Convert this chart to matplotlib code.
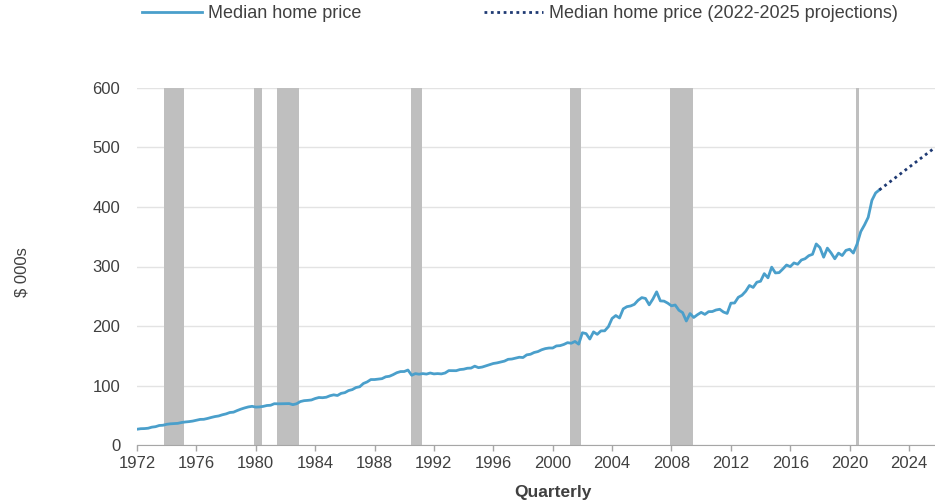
import numpy as np
import matplotlib
matplotlib.use("Agg")
import matplotlib.pyplot as plt

plt.rcParams['font.family'] = ['Liberation Sans', 'DejaVu Sans']

# quarterly median home price, $000s, 1972Q1 .. 2022Q1
price = [
    26.5, 27.4, 27.6, 28.2,      # 1972
    30.0, 30.8, 32.8, 33.2,      # 1973
    34.8, 35.6, 36.0, 36.4,      # 1974
    37.8, 38.7, 39.3, 40.2,      # 1975
    41.6, 43.0, 43.2, 44.6,      # 1976
    46.3, 47.8, 48.8, 50.8,      # 1977
    52.3, 54.6, 55.2, 57.9,      # 1978
    60.3, 62.3, 64.0, 65.0,      # 1979
    63.7, 64.0, 64.9, 66.4,      # 1980
    66.8, 69.4, 69.2, 69.3,      # 1981
    69.3, 69.6, 67.8, 69.3,      # 1982
    73.0, 74.5, 75.0, 75.7,      # 1983
    78.1, 79.8, 79.5, 80.3,      # 1984
    82.8, 84.3, 83.2, 86.8,      # 1985
    88.0, 91.5, 93.1, 96.6,      # 1986
    97.9, 103.4, 106.0, 110.0,   # 1987
    110.0, 110.8, 111.5, 114.6,  # 1988
    115.5, 118.2, 121.5, 123.4,  # 1989
    123.5, 126.0, 117.2, 120.0,  # 1990
    119.0, 120.0, 119.2, 121.0,  # 1991
    119.5, 120.0, 119.5, 121.0,  # 1992
    125.0, 125.0, 124.9, 126.8,  # 1993
    127.4, 129.0, 129.3, 132.5,  # 1994
    130.0, 131.0, 133.0, 135.0,  # 1995
    137.0, 138.0, 139.5, 141.0,  # 1996
    144.0, 144.5, 146.0, 147.5,  # 1997
    147.0, 151.5, 152.5, 155.5,  # 1998
    157.0, 160.0, 162.0, 163.0,  # 1999
    163.0, 166.5, 167.0, 169.0,  # 2000
    172.0, 171.0, 174.0, 169.5,  # 2001
    188.7, 187.2, 178.1, 190.1,  # 2002
    186.0, 191.8, 191.9, 198.8,  # 2003
    212.7, 217.6, 213.5, 228.8,  # 2004
    232.5, 233.7, 236.4, 243.2,  # 2005
    247.7, 246.3, 235.6, 245.4,  # 2006
    257.4, 242.2, 241.8, 238.4,  # 2007
    233.9, 235.3, 226.5, 222.5,  # 2008
    208.4, 220.9, 214.3, 219.0,  # 2009
    222.9, 219.5, 224.1, 224.3,  # 2010
    226.9, 228.1, 223.5, 221.1,  # 2011
    238.4, 238.7, 248.2, 251.7,  # 2012
    258.4, 268.1, 264.8, 273.6,  # 2013
    275.2, 288.0, 281.0, 298.9,  # 2014
    289.2, 289.7, 295.8, 302.5,  # 2015
    299.8, 306.0, 303.8, 310.9,  # 2016
    313.1, 318.2, 320.5, 337.9,  # 2017
    331.8, 315.6, 330.9, 322.8,  # 2018
    313.0, 322.5, 318.4, 327.1,  # 2019
    329.0, 322.6, 337.5, 358.7,  # 2020
    369.8, 382.6, 411.2, 423.6,  # 2021
    428.7,                       # 2022
]

# projections 2022Q1 .. 2025Q4
proj = [428.7, 433.5, 438.2, 443.0, 447.7, 452.5, 457.2, 462.0,
        466.7, 471.5, 476.2, 481.0, 485.7, 490.5, 495.2, 500.0]

# recession periods (year fractions)
rec_start = [1973.85, 1979.9, 1981.4, 1990.45, 2001.15, 2007.9, 2020.4]
rec_end = [1975.15, 1980.4, 1982.9, 1991.2, 2001.9, 2009.45, 2020.65]

tick_years = list(range(1972, 2025, 4))

x_hist = 1972 + np.arange(len(price)) / 4.0
x_proj = 2022 + np.arange(len(proj)) / 4.0

txt = '#404040'

fig = plt.figure(figsize=(9.35, 5.04), dpi=100)
ax = fig.add_axes([137 / 935, 59 / 504, 798 / 935, 357 / 504])

for s, e in zip(rec_start, rec_end):
    ax.axvspan(s, e, color='#BFBFBF', lw=0, zorder=1)

ln1, = ax.plot(x_hist, price, color='#4A9FCB', lw=2.0, zorder=3,
               label='Median home price')
ln2, = ax.plot(x_proj, proj, color='#1F3A73', lw=2.0, ls=(0, (1, 1.3)),
               zorder=3, label='Median home price (2022-2025 projections)')

ax.set_xlim(1972, 2025.75)
ax.set_ylim(0, 600)
ax.set_yticks(range(0, 601, 100))
ax.set_xticks(tick_years)
ax.set_xticklabels([str(y) for y in tick_years])
ax.yaxis.grid(True, color='#E3E3E3', lw=1.0, zorder=0)
ax.set_axisbelow(True)

for side in ['top', 'right', 'left']:
    ax.spines[side].set_visible(False)
ax.spines['bottom'].set_color('#A6A6A6')
ax.spines['bottom'].set_zorder(4)

ax.tick_params(axis='y', length=0, pad=12, labelsize=12, labelcolor=txt)
ax.tick_params(axis='x', length=4, width=1, color='#A6A6A6', pad=4,
               labelsize=12, labelcolor=txt)

fig.text(22 / 935, 1 - 272 / 504, '$ 000s', rotation=90, ha='center',
         va='center', fontsize=12, color=txt)
fig.text(553 / 935, 1 - 493 / 504, 'Quarterly', ha='center', va='center',
         fontsize=12.5, fontweight='bold', color=txt)

fig.legend(handles=[ln1, ln2], loc='center left',
           bbox_to_anchor=(142 / 935, 1 - 14 / 504), ncol=2, frameon=False,
           fontsize=13, handlelength=3.3, handletextpad=0.33,
           columnspacing=6.8, borderpad=0, borderaxespad=0,
           labelcolor=txt)

fig.savefig('out.png', dpi=100)
